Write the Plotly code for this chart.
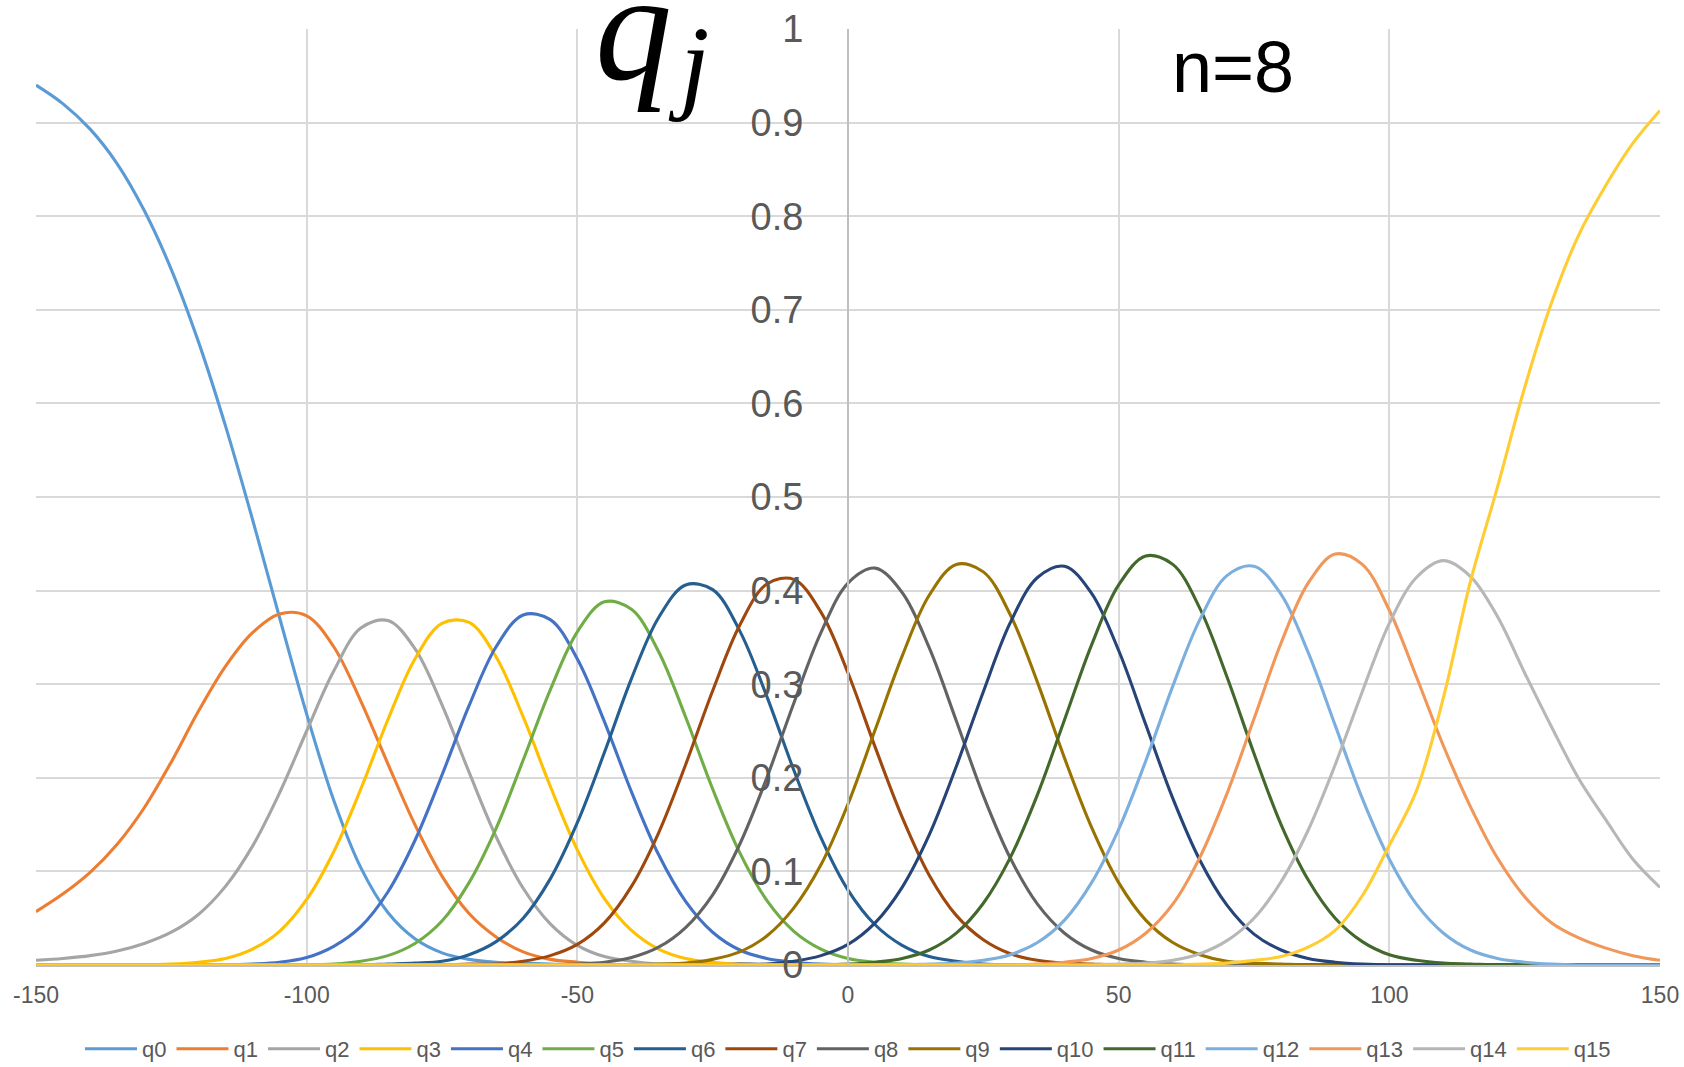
import plotly.graph_objects as go

# sample positions along the horizontal axis
x_pos = list(range(-150, 151, 5))

names = ["q0", "q1", "q2", "q3", "q4", "q5", "q6", "q7",
         "q8", "q9", "q10", "q11", "q12", "q13", "q14", "q15"]

colors = ["#5B9BD5", "#ED7D31", "#A5A5A5", "#FFC000", "#4472C4", "#70AD47",
          "#255E91", "#9E480E", "#636363", "#997300", "#264478", "#43682B",
          "#7CAFDD", "#F1975A", "#B7B7B7", "#FFCD33"]

# values of each curve at x = -150, -145, ..., 150 (rows of ten)
q0 = [0.940, 0.920, 0.893, 0.856, 0.806, 0.743, 0.666, 0.576, 0.476, 0.371,
      0.268, 0.176, 0.104, 0.056, 0.028, 0.013, 0.006, 0.003, 0.002, 0.001,
      0, 0, 0, 0, 0, 0, 0, 0, 0, 0,
      0, 0, 0, 0, 0, 0, 0, 0, 0, 0,
      0, 0, 0, 0, 0, 0, 0, 0, 0, 0,
      0, 0, 0, 0, 0, 0, 0, 0, 0, 0,
      0]
q1 = [0.057, 0.076, 0.099, 0.129, 0.168, 0.217, 0.271, 0.319, 0.355, 0.375,
      0.373, 0.340, 0.282, 0.215, 0.150, 0.095, 0.055, 0.030, 0.014, 0.006,
      0.003, 0.001, 0, 0, 0, 0, 0, 0, 0, 0,
      0, 0, 0, 0, 0, 0, 0, 0, 0, 0,
      0, 0, 0, 0, 0, 0, 0, 0, 0, 0,
      0, 0, 0, 0, 0, 0, 0, 0, 0, 0,
      0]
q2 = [0.005, 0.007, 0.010, 0.015, 0.023, 0.035, 0.054, 0.084, 0.127, 0.184,
      0.250, 0.314, 0.360, 0.368, 0.338, 0.278, 0.206, 0.137, 0.082, 0.044,
      0.021, 0.009, 0.004, 0.001, 0, 0, 0, 0, 0, 0,
      0, 0, 0, 0, 0, 0, 0, 0, 0, 0,
      0, 0, 0, 0, 0, 0, 0, 0, 0, 0,
      0, 0, 0, 0, 0, 0, 0, 0, 0, 0,
      0]
q3 = [0, 0, 0, 0, 0, 0.001, 0.003, 0.007, 0.017, 0.036,
      0.070, 0.121, 0.188, 0.262, 0.327, 0.365, 0.366, 0.329, 0.265, 0.191,
      0.123, 0.071, 0.037, 0.017, 0.007, 0.003, 0.001, 0, 0, 0,
      0, 0, 0, 0, 0, 0, 0, 0, 0, 0,
      0, 0, 0, 0, 0, 0, 0, 0, 0, 0,
      0, 0, 0, 0, 0, 0, 0, 0, 0, 0,
      0]
q4 = [0, 0, 0, 0, 0, 0, 0, 0, 0.001, 0.003,
      0.008, 0.020, 0.041, 0.078, 0.133, 0.203, 0.277, 0.340, 0.374, 0.369,
      0.327, 0.260, 0.185, 0.118, 0.068, 0.035, 0.016, 0.007, 0.003, 0.001,
      0, 0, 0, 0, 0, 0, 0, 0, 0, 0,
      0, 0, 0, 0, 0, 0, 0, 0, 0, 0,
      0, 0, 0, 0, 0, 0, 0, 0, 0, 0,
      0]
q5 = [0, 0, 0, 0, 0, 0, 0, 0, 0, 0,
      0, 0.001, 0.004, 0.010, 0.023, 0.047, 0.088, 0.146, 0.219, 0.294,
      0.356, 0.388, 0.380, 0.335, 0.265, 0.188, 0.120, 0.069, 0.036, 0.017,
      0.007, 0.003, 0.001, 0, 0, 0, 0, 0, 0, 0,
      0, 0, 0, 0, 0, 0, 0, 0, 0, 0,
      0, 0, 0, 0, 0, 0, 0, 0, 0, 0,
      0]
q6 = [0, 0, 0, 0, 0, 0, 0, 0, 0, 0,
      0, 0, 0, 0.001, 0.002, 0.004, 0.011, 0.025, 0.050, 0.092,
      0.152, 0.227, 0.306, 0.371, 0.406, 0.401, 0.357, 0.287, 0.208, 0.136,
      0.080, 0.043, 0.021, 0.009, 0.004, 0.001, 0, 0, 0, 0,
      0, 0, 0, 0, 0, 0, 0, 0, 0, 0,
      0, 0, 0, 0, 0, 0, 0, 0, 0, 0,
      0]
q7 = [0, 0, 0, 0, 0, 0, 0, 0, 0, 0,
      0, 0, 0, 0, 0, 0, 0.001, 0.001, 0.004, 0.010,
      0.022, 0.045, 0.084, 0.141, 0.214, 0.293, 0.363, 0.407, 0.412, 0.377,
      0.312, 0.233, 0.158, 0.096, 0.053, 0.027, 0.012, 0.005, 0.002, 0.001,
      0, 0, 0, 0, 0, 0, 0, 0, 0, 0,
      0, 0, 0, 0, 0, 0, 0, 0, 0, 0,
      0]
q8 = [0, 0, 0, 0, 0, 0, 0, 0, 0, 0,
      0, 0, 0, 0, 0, 0, 0, 0, 0, 0,
      0.001, 0.003, 0.008, 0.019, 0.040, 0.075, 0.129, 0.200, 0.280, 0.355,
      0.408, 0.424, 0.398, 0.339, 0.261, 0.181, 0.114, 0.065, 0.034, 0.016,
      0.007, 0.003, 0.001, 0, 0, 0, 0, 0, 0, 0,
      0, 0, 0, 0, 0, 0, 0, 0, 0, 0,
      0]
q9 = [0, 0, 0, 0, 0, 0, 0, 0, 0, 0,
      0, 0, 0, 0, 0, 0, 0, 0, 0, 0,
      0, 0, 0, 0.001, 0.002, 0.006, 0.014, 0.031, 0.061, 0.107,
      0.172, 0.251, 0.330, 0.395, 0.428, 0.420, 0.374, 0.302, 0.221, 0.147,
      0.088, 0.048, 0.024, 0.011, 0.004, 0.002, 0.001, 0, 0, 0,
      0, 0, 0, 0, 0, 0, 0, 0, 0, 0,
      0]
q10 = [0, 0, 0, 0, 0, 0, 0, 0, 0, 0,
       0, 0, 0, 0, 0, 0, 0, 0, 0, 0,
       0, 0, 0, 0, 0, 0, 0.001, 0.001, 0.004, 0.010,
       0.022, 0.045, 0.083, 0.139, 0.212, 0.292, 0.366, 0.414, 0.426, 0.397,
       0.336, 0.257, 0.178, 0.112, 0.064, 0.033, 0.016, 0.007, 0.003, 0.001,
       0, 0, 0, 0, 0, 0, 0, 0, 0, 0,
       0]
q11 = [0, 0, 0, 0, 0, 0, 0, 0, 0, 0,
       0, 0, 0, 0, 0, 0, 0, 0, 0, 0,
       0, 0, 0, 0, 0, 0, 0, 0, 0, 0,
       0.001, 0.003, 0.007, 0.016, 0.034, 0.066, 0.115, 0.182, 0.262, 0.342,
       0.406, 0.437, 0.428, 0.381, 0.308, 0.226, 0.150, 0.091, 0.050, 0.025,
       0.011, 0.005, 0.002, 0.001, 0, 0, 0, 0, 0, 0,
       0]
q12 = [0, 0, 0, 0, 0, 0, 0, 0, 0, 0,
       0, 0, 0, 0, 0, 0, 0, 0, 0, 0,
       0, 0, 0, 0, 0, 0, 0, 0, 0, 0,
       0, 0, 0, 0.001, 0.002, 0.005, 0.011, 0.024, 0.048, 0.088,
       0.145, 0.218, 0.298, 0.369, 0.416, 0.426, 0.396, 0.334, 0.256, 0.178,
       0.113, 0.065, 0.034, 0.016, 0.007, 0.003, 0.001, 0, 0, 0,
       0]
q13 = [0, 0, 0, 0, 0, 0, 0, 0, 0, 0,
       0, 0, 0, 0, 0, 0, 0, 0, 0, 0,
       0, 0, 0, 0, 0, 0, 0, 0, 0, 0,
       0, 0, 0, 0, 0, 0, 0, 0.001, 0.003, 0.007,
       0.016, 0.034, 0.065, 0.115, 0.183, 0.263, 0.344, 0.408, 0.439, 0.428,
       0.379, 0.308, 0.234, 0.169, 0.114, 0.073, 0.045, 0.029, 0.018, 0.010,
       0.005]
q14 = [0, 0, 0, 0, 0, 0, 0, 0, 0, 0,
       0, 0, 0, 0, 0, 0, 0, 0, 0, 0,
       0, 0, 0, 0, 0, 0, 0, 0, 0, 0,
       0, 0, 0, 0, 0, 0, 0, 0, 0, 0,
       0.001, 0.002, 0.005, 0.012, 0.026, 0.050, 0.089, 0.144, 0.214, 0.292,
       0.365, 0.414, 0.432, 0.415, 0.372, 0.312, 0.254, 0.199, 0.155, 0.113,
       0.083]
q15 = [0, 0, 0, 0, 0, 0, 0, 0, 0, 0,
       0, 0, 0, 0, 0, 0, 0, 0, 0, 0,
       0, 0, 0, 0, 0, 0, 0, 0, 0, 0,
       0, 0, 0, 0, 0, 0, 0, 0, 0, 0,
       0, 0, 0, 0.001, 0.002, 0.005, 0.009, 0.019, 0.037, 0.074,
       0.128, 0.186, 0.286, 0.410, 0.511, 0.617, 0.708, 0.780, 0.833, 0.878,
       0.913]

series = [q0, q1, q2, q3, q4, q5, q6, q7, q8, q9, q10, q11, q12, q13, q14, q15]

x_ticks = [-150, -100, -50, 0, 50, 100, 150]
x_tick_text = ["-150", "-100", "-50", "0", "50", "100", "150"]

GRID = "#d9d9d9"
AXIS = "#bfbfbf"
LABEL = "#595959"
SANS = "Liberation Sans, Arial, sans-serif"
SERIF = "Liberation Serif, DejaVu Serif, serif"

# pixel helpers for placing text relative to the plot area
PLOT_L, PLOT_R, PLOT_T, PLOT_B = 36, 1660, 29, 965


def px_x(px):
    return (px - PLOT_L) / (PLOT_R - PLOT_L)


def px_y(py):
    return (PLOT_B - py) / (PLOT_B - PLOT_T)


fig = go.Figure()
for name, color, ys in zip(names, colors, series):
    fig.add_trace(go.Scatter(
        x=x_pos, y=ys, name=name, mode="lines",
        line=dict(color=color, width=3.1, shape="spline", smoothing=1.0),
    ))

fig.update_layout(
    width=1684, height=1067,
    margin=dict(l=PLOT_L, r=1684 - PLOT_R, t=PLOT_T, b=1067 - PLOT_B,
                autoexpand=False),
    paper_bgcolor="white", plot_bgcolor="white",
    showlegend=True,
    legend=dict(
        orientation="h", x=0.5, xanchor="center", y=px_y(1049), yanchor="middle",
        font=dict(family=SANS, size=22, color=LABEL),
        itemwidth=52, tracegroupgap=0,
    ),
    xaxis=dict(
        range=[-150, 150], tickvals=x_ticks, ticktext=x_tick_text,
        showgrid=True, gridcolor=GRID, gridwidth=1.5, zeroline=False,
        showline=True, linecolor=AXIS, linewidth=1.5, ticks="",
        ticklabelstandoff=9,
        tickfont=dict(family=SANS, size=23, color=LABEL),
    ),
    yaxis=dict(
        range=[0, 1], tick0=0, dtick=0.1, anchor="free", position=0.5,
        showgrid=True, gridcolor=GRID, gridwidth=1.5, zeroline=False,
        showline=True, linecolor=AXIS, linewidth=2, ticks="",
        ticklabelstandoff=36,
        tickfont=dict(family=SANS, size=38, color=LABEL),
    ),
    annotations=[
        dict(text="<i>q</i>", xref="paper", yref="paper",
             x=px_x(633), y=px_y(27),
             xanchor="center", yanchor="middle", showarrow=False,
             font=dict(family=SERIF, size=154, color="black")),
        dict(text="<i>j</i>", xref="paper", yref="paper",
             x=px_x(688), y=px_y(64),
             xanchor="center", yanchor="middle", showarrow=False,
             font=dict(family=SERIF, size=106, color="black")),
        dict(text="n=8", xref="paper", yref="paper",
             x=px_x(1233), y=px_y(67),
             xanchor="center", yanchor="middle", showarrow=False,
             font=dict(family=SANS, size=72, color="black")),
    ],
)

fig.write_html("out.html")
